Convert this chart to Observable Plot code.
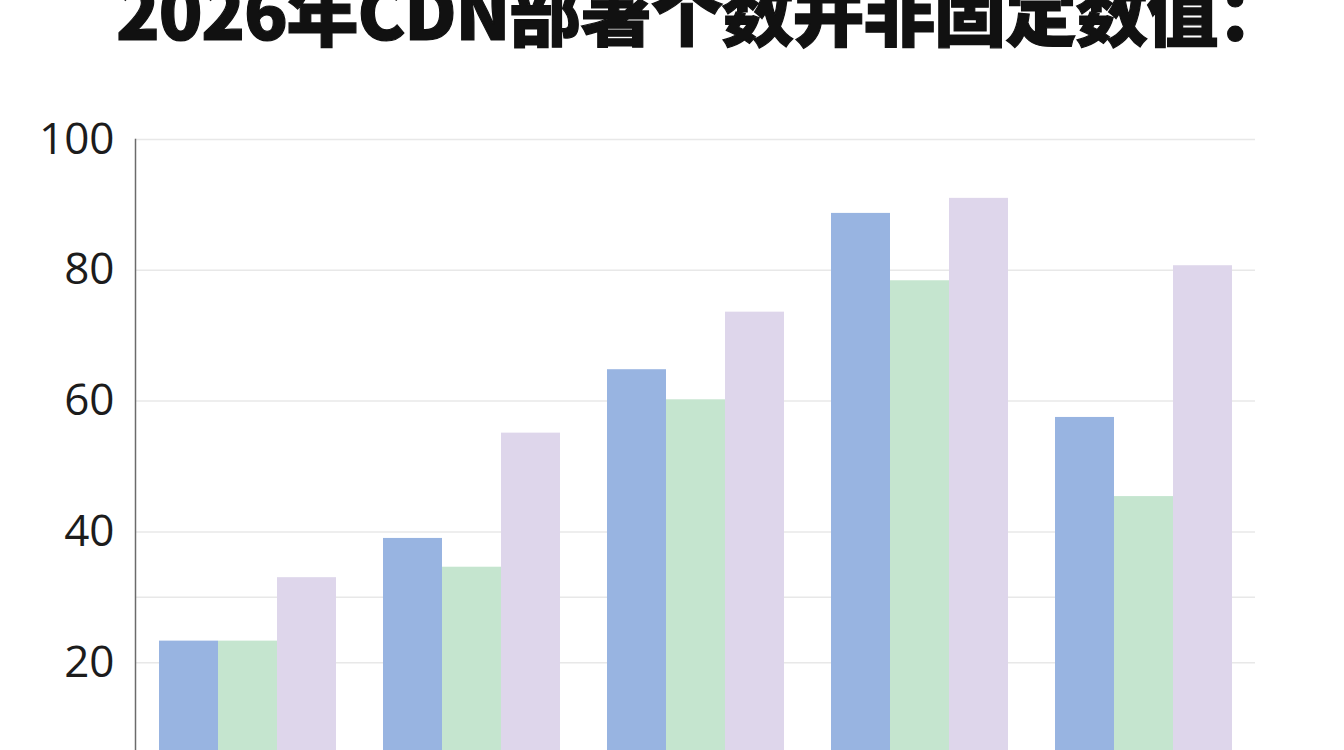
<!DOCTYPE html>
<html><head><meta charset="utf-8">
<script src="https://cdn.jsdelivr.net/npm/d3@7"></script>
<script src="https://cdn.jsdelivr.net/npm/@observablehq/plot@0.6"></script>
<style>
html,body{margin:0;padding:0;background:#fff;overflow:hidden;width:1344px;height:750px}
#title{margin:0;height:60px;position:relative;font-family:"Noto Sans CJK SC";font-weight:900;font-size:72px;line-height:72px;white-space:nowrap;color:#111;letter-spacing:-1.2px;-webkit-text-stroke:1.2px #111;}
#title span{position:absolute;left:116px;top:-27px}
#chart svg{display:block}
</style></head><body>
<h1 id="title"><span>2026年CDN部署个数并非固定数值：</span></h1>
<div id="chart"></div>
<script>
// categories (x-axis labels are cropped out of the reference)
const groups = ["类别1","类别2","类别3","类别4","类别5"];
const seriesNames = ["系列A","系列B","系列C"];
// values
const seriesA = [23.3, 39.0, 64.8, 88.7, 57.5];
const seriesB = [23.3, 34.6, 60.2, 78.4, 45.4];
const seriesC = [33.0, 55.1, 73.6, 91.0, 80.7];
// axis
const yTicks = [20, 40, 60, 80, 100];
const gridValues = [20, 30, 40, 60, 80, 100];
const colors = ["#98b4e1", "#c5e5cf", "#ded6eb"];

const seriesValues = [seriesA, seriesB, seriesC];
const rows = [];
groups.forEach((g, i) => seriesNames.forEach((s, j) => rows.push({group: g, series: s, value: seriesValues[j][i]})));

const chart = Plot.plot({
  width: 1344,
  height: 790,
  marginTop: 79,
  marginBottom: 57,
  marginLeft: 134,
  marginRight: 88,
  style: {background: "#fff", color: "#1c1c1c", fontFamily: "Open Sans"},
  fx: {domain: groups, padding: 0, axis: null, label: null},
  x: {domain: seriesNames, paddingInner: 0, paddingOuter: 0.39, axis: null},
  y: {domain: [0, 100]},
  color: {domain: seriesNames, range: colors},
  marks: [
    Plot.gridY(gridValues, {stroke: "#e8e8e8", strokeOpacity: 1, strokeWidth: 1.5}),
    Plot.barY(rows, {fx: "group", x: "series", y: "value", fill: "series"}),
    Plot.frame({anchor: "left", facetAnchor: "left", stroke: "#6b6b6b", strokeWidth: 1.5}),
    Plot.axisY(yTicks, {tickSize: 0, tickPadding: 21, fontSize: 44, label: null, fontFamily: "Open Sans"})
  ]
});
document.getElementById("chart").appendChild(chart);
</script>
</body></html>
